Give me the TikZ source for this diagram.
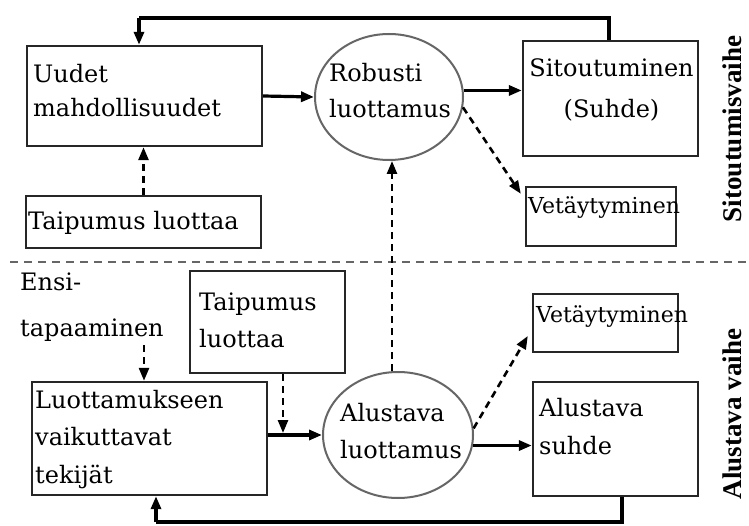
\documentclass[tikz,border=0pt]{standalone}
\usepackage{fontspec}
\setmainfont{DejaVu Serif}
\newfontfamily\labfont{Liberation Serif}
\usetikzlibrary{arrows.meta,calc,shapes.geometric}
\begin{document}
\begin{tikzpicture}[x=1pt,y=-1pt,
  box/.style={draw=black!85, line width=2.4pt, inner sep=0pt, rectangle},
  oval/.style={draw=black!60, line width=2pt, ellipse, inner sep=0pt},
  txt/.style={anchor=base west, inner sep=0pt},
  ctxt/.style={anchor=base, inner sep=0pt},
  sol/.style={line width=3.2pt, -{Triangle[length=13pt,width=10pt]}},
  fbk/.style={line width=3.2pt},
  dsh/.style={line width=2.6pt, dash pattern=on 7pt off 5pt, -{Triangle[length=13pt,width=10pt]}},
  sepline/.style={draw=black!60, line width=2pt, dash pattern=on 8pt off 6pt},
  vaihe/.style={rotate=90, inner sep=0pt, font=\labfont\bfseries\fontsize{27}{29}\selectfont}
]
\useasboundingbox (0,0) rectangle (749,526);
\fill[white] (0,0) rectangle (749,526);

% boxes and ellipses
\node[box, minimum width=235pt, minimum height=100pt] (uud) at (144.5,96) {};
\node[oval, minimum width=148pt, minimum height=126pt] (rob) at (389,97) {};
\node[box, minimum width=175pt, minimum height=115pt] (sit) at (610.5,98.5) {};
\node[box, minimum width=150pt, minimum height=59pt] (vt) at (601,216.5) {};
\node[box, minimum width=235pt, minimum height=52pt] (tt) at (143.5,222) {};
\node[box, minimum width=155pt, minimum height=102pt] (tb) at (267.5,322) {};
\node[box, minimum width=235pt, minimum height=113pt] (lu) at (149.5,438.5) {};
\node[oval, minimum width=150pt, minimum height=126pt] (alu) at (398,435) {};
\node[box, minimum width=145pt, minimum height=58pt] (vb) at (605.5,323) {};
\node[box, minimum width=165pt, minimum height=114pt] (as) at (615.5,439) {};

% texts
\node[txt, font=\fontsize{24}{34}\selectfont] (t-uud) at (33,83) {\begin{tabular}[t]{@{}l@{}}Uudet\\mahdollisuudet\end{tabular}};
\node[txt, font=\fontsize{24}{36}\selectfont] (t-rob) at (329,82) {\begin{tabular}[t]{@{}l@{}}Robusti\\luottamus\end{tabular}};
\node[ctxt, font=\fontsize{24}{41}\selectfont] (t-sit) at (611.5,77) {\begin{tabular}[t]{@{}c@{}}Sitoutuminen\\(Suhde)\end{tabular}};
\node[txt, font=\fontsize{22}{30}\selectfont] (t-vt) at (528,214) {Vetäytyminen};
\node[txt, font=\fontsize{24}{36}\selectfont] (t-tt) at (28,230) {Taipumus luottaa};
\node[txt, font=\fontsize{24}{45}\selectfont] (ensi) at (20,291) {\begin{tabular}[t]{@{}l@{}}Ensi-\\tapaaminen\end{tabular}};
\node[txt, font=\fontsize{24}{37}\selectfont] (t-tb) at (199,311) {\begin{tabular}[t]{@{}l@{}}Taipumus\\luottaa\end{tabular}};
\node[txt, font=\fontsize{24}{37.5}\selectfont] (t-lu) at (35,408) {\begin{tabular}[t]{@{}l@{}}Luottamukseen\\vaikuttavat\\tekijät\end{tabular}};
\node[txt, font=\fontsize{24}{37}\selectfont] (t-alu) at (340,421) {\begin{tabular}[t]{@{}l@{}}Alustava\\luottamus\end{tabular}};
\node[txt, font=\fontsize{22}{30}\selectfont] (t-vb) at (536,323) {Vetäytyminen};
\node[txt, font=\fontsize{24}{38}\selectfont] (t-as) at (539,416) {\begin{tabular}[t]{@{}l@{}}Alustava\\suhde\end{tabular}};

% phase labels
\node[vaihe] (ph1) at (732,129) {Sitoutumisvaihe};
\node[vaihe] (ph2) at (732,414) {Alustava vaihe};

% separator
\coordinate (sepL) at (10,262);
\coordinate (sepR) at (749,262);
\draw[sepline] (sepL) -- (sepR);

% helper coordinates
\coordinate (t1) at (609,18);
\coordinate (t2) at (139,18);
\coordinate (vx) at (392,0);
\coordinate (ex) at (144,345);
\coordinate (jn) at (283,433);
\coordinate (b1) at (622,522);
\coordinate (b2) at (156,522);

% top part connectors
\draw[fbk] (sit.north -| t1) -- (t1) -- (t2);
\draw[sol] (t2) -- (uud.north -| t2);
\draw[sol] (uud.east) -- (rob.west);
\draw[sol] (rob.5) -- (rob.5 -| sit.west);
\draw[dsh] (rob.-8) -- ($(vt.north west)+(-4,8)$);
\draw[dsh] (tt.north) -- (tt.north |- uud.south);
\draw[dsh] (vx |- alu.north) -- (vx |- rob.south);

% bottom part connectors
\draw[dsh] (ex) -- (lu.north -| ex);
\draw[dsh] (tb.south -| jn) -- (jn);
\draw[sol] (lu.east |- alu.west) -- (alu.west);
\draw[sol] (alu.-8) -- (alu.-8 -| as.west);
\draw[dsh] (alu.5) -- ($(vb.west)+(-4,13)$);
\draw[fbk] (as.south -| b1) -- (b1) -- (b2);
\draw[sol] (b2) -- (lu.south -| b2);
\end{tikzpicture}
\end{document}
